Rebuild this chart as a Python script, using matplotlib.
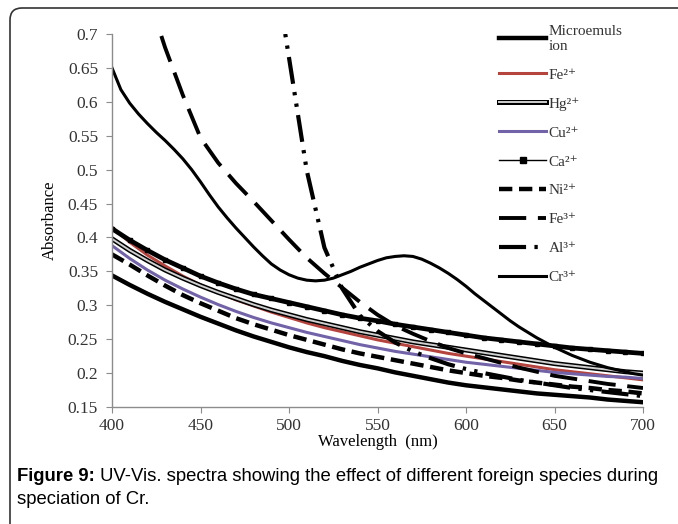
import numpy as np
import matplotlib
matplotlib.use("Agg")
import matplotlib.pyplot as plt
from matplotlib.lines import Line2D
from matplotlib.patches import FancyBboxPatch

nan = np.nan

wavelength = list(range(400, 701, 10))

microemulsion = [0.344, 0.330, 0.317, 0.305, 0.294, 0.283, 0.273, 0.263, 0.254, 0.246,
                 0.238, 0.231, 0.225, 0.218, 0.212, 0.207, 0.201, 0.196, 0.191, 0.186,
                 0.182, 0.179, 0.176, 0.173, 0.170, 0.168, 0.166, 0.164, 0.161, 0.159, 0.157]
fe2 = [0.415, 0.393, 0.374, 0.358, 0.343, 0.330, 0.319, 0.308, 0.299, 0.290,
       0.282, 0.274, 0.267, 0.261, 0.255, 0.249, 0.244, 0.239, 0.234, 0.229,
       0.225, 0.221, 0.217, 0.213, 0.209, 0.205, 0.202, 0.199, 0.196, 0.193, 0.190]
hg = [0.398, 0.381, 0.366, 0.352, 0.340, 0.329, 0.319, 0.310, 0.301, 0.293,
      0.286, 0.279, 0.273, 0.267, 0.261, 0.256, 0.251, 0.246, 0.242, 0.238,
      0.234, 0.230, 0.226, 0.222, 0.218, 0.214, 0.211, 0.208, 0.205, 0.202, 0.200]
cu = [0.388, 0.369, 0.352, 0.337, 0.324, 0.312, 0.301, 0.291, 0.282, 0.274,
      0.267, 0.260, 0.254, 0.248, 0.242, 0.237, 0.232, 0.228, 0.224, 0.220,
      0.216, 0.213, 0.210, 0.207, 0.204, 0.201, 0.199, 0.197, 0.195, 0.194, 0.192]
ca = [0.413, 0.396, 0.381, 0.367, 0.355, 0.343, 0.333, 0.324, 0.316, 0.310,
      0.304, 0.298, 0.292, 0.286, 0.281, 0.277, 0.272, 0.268, 0.264, 0.260,
      0.256, 0.252, 0.249, 0.246, 0.243, 0.240, 0.237, 0.235, 0.233, 0.231, 0.229]
ni = [0.375, 0.360, 0.344, 0.329, 0.315, 0.303, 0.292, 0.281, 0.272, 0.264,
      0.256, 0.249, 0.242, 0.235, 0.229, 0.224, 0.219, 0.214, 0.209, 0.204,
      0.200, 0.196, 0.193, 0.189, 0.186, 0.183, 0.180, 0.178, 0.175, 0.173, 0.170]
fe3 = [nan, nan, 0.760, 0.680, 0.610, 0.547, 0.510, 0.480, 0.453, 0.425,
       0.397, 0.370, 0.347, 0.326, 0.305, 0.286, 0.270, 0.258, 0.247, 0.237,
       0.229, 0.222, 0.215, 0.208, 0.202, 0.196, 0.192, 0.188, 0.184, 0.181, 0.178]
al = [nan, nan, nan, nan, nan, nan, nan, nan, nan, 0.830,
      0.665, 0.499, 0.385, 0.325, 0.285, 0.262, 0.245, 0.232, 0.222, 0.213,
      0.206, 0.200, 0.195, 0.190, 0.186, 0.182, 0.178, 0.175, 0.172, 0.169, 0.166]

# Cr3+ read at 5 nm steps (has a band near 565 nm)
wavelength_cr = list(range(400, 701, 5))
cr = [0.650, 0.618, 0.598, 0.582, 0.568, 0.555, 0.543, 0.530, 0.516, 0.500,
      0.482, 0.463, 0.445, 0.429, 0.414, 0.400, 0.386, 0.373, 0.361, 0.352,
      0.345, 0.340, 0.337, 0.336, 0.337, 0.340, 0.345, 0.350, 0.356, 0.361,
      0.366, 0.370, 0.372, 0.373, 0.372, 0.368, 0.362, 0.355, 0.347, 0.338,
      0.328, 0.317, 0.307, 0.297, 0.287, 0.277, 0.268, 0.260, 0.252, 0.245,
      0.238, 0.232, 0.226, 0.221, 0.216, 0.212, 0.208, 0.205, 0.202, 0.199, 0.197]

labels = ["Microemuls\nion", "Fe²⁺", "Hg²⁺", "Cu²⁺", "Ca²⁺", "Ni²⁺", "Fe³⁺", "Al³⁺", "Cr³⁺"]

serif = ["Liberation Serif", "DejaVu Serif"]
sans = ["Liberation Sans", "DejaVu Sans"]

fig = plt.figure(figsize=(6.78, 5.24), dpi=100)
ax = fig.add_axes([0.1652, 0.2233, 0.7832, 0.7118])

ax.plot(wavelength, microemulsion, color="black", lw=3.2)
ax.plot(wavelength, fe2, color="#b5443f", lw=2.2)
ax.plot(wavelength, hg, color="black", lw=3.6)
ax.plot(wavelength, hg, color="#d0d0d0", lw=1.4)
ax.plot(wavelength, cu, color="#7262a8", lw=2.2)
ax.plot(wavelength, ca, color="black", lw=3.4, marker="s", markersize=3.5)
ax.plot(wavelength, ni, color="black", lw=3.2, dashes=(3, 1.5))
ax.plot(wavelength, fe3, color="black", lw=2.8, dashes=(7, 3))
ax.plot(wavelength, al, color="black", lw=3.0, dashes=(6.5, 2, 0.8, 2, 0.8, 2))
ax.plot(wavelength_cr, cr, color="black", lw=2.2)

ax.set_xlim(400, 700)
ax.set_ylim(0.15, 0.7)
ax.set_xticks([400, 450, 500, 550, 600, 650, 700])
ax.set_yticks(np.arange(0.15, 0.701, 0.05))
ax.set_yticklabels(["0.15", "0.2", "0.25", "0.3", "0.35", "0.4", "0.45",
                    "0.5", "0.55", "0.6", "0.65", "0.7"])
for s in ["top", "right"]:
    ax.spines[s].set_visible(False)
for s in ["left", "bottom"]:
    ax.spines[s].set_color("#8c8c8c")
    ax.spines[s].set_linewidth(1.0)
ax.tick_params(direction="out", length=4, color="#8c8c8c", labelcolor="#333333",
               labelsize=12.5)
ax.tick_params(axis="x", pad=4)
ax.tick_params(axis="y", pad=6)
for t in ax.get_xticklabels() + ax.get_yticklabels():
    t.set_fontfamily(serif)

ax.set_xlabel("Wavelength  (nm)", fontfamily=serif, fontsize=12, labelpad=0)
ax.set_ylabel("Absorbance", fontfamily=serif, fontsize=12, labelpad=7)

handles = [
    Line2D([], [], color="black", lw=3.2),
    Line2D([], [], color="#b5443f", lw=2.2),
    (Line2D([], [], color="black", lw=3.6), Line2D([], [], color="#d0d0d0", lw=1.4)),
    Line2D([], [], color="#7262a8", lw=2.2),
    Line2D([], [], color="black", lw=1, marker="s", markersize=4),
    Line2D([], [], color="black", lw=3.2, dashes=(3, 1.5)),
    Line2D([], [], color="black", lw=2.8, dashes=(7, 3)),
    Line2D([], [], color="black", lw=3.0, dashes=(6.5, 2, 0.8, 2, 0.8, 2)),
    Line2D([], [], color="black", lw=2.2),
]
leg = ax.legend(handles, labels, loc="upper left", bbox_to_anchor=(0.703, 1.062),
                frameon=False, handlelength=3.1, handletextpad=0.15,
                labelspacing=1.0, prop={"family": serif, "size": 11})
for t in leg.get_texts():
    t.set_color("#333333")

# rounded frame around figure (cut off at right and bottom)
frame = FancyBboxPatch((0.1, -0.5), 7.5, 5.16 + 0.5,
                       boxstyle="round,pad=0,rounding_size=0.12",
                       transform=fig.dpi_scale_trans, fill=False,
                       edgecolor="#333333", lw=1.2)
fig.patches.append(frame)

t1 = fig.text(17 / 678, 1 - 481 / 524, "Figure 9:", fontfamily=sans,
              fontweight="bold", fontsize=13.3, va="baseline")
ax.annotate(" UV-Vis. spectra showing the effect of different foreign species during",
            xy=(1, 0), xycoords=t1, va="bottom", ha="left",
            fontfamily=sans, fontsize=13.3, annotation_clip=False)
fig.text(17 / 678, 1 - 504 / 524, "speciation of Cr.", fontfamily=sans,
         fontsize=13.3, va="baseline")

fig.savefig("out.png", dpi=100)
